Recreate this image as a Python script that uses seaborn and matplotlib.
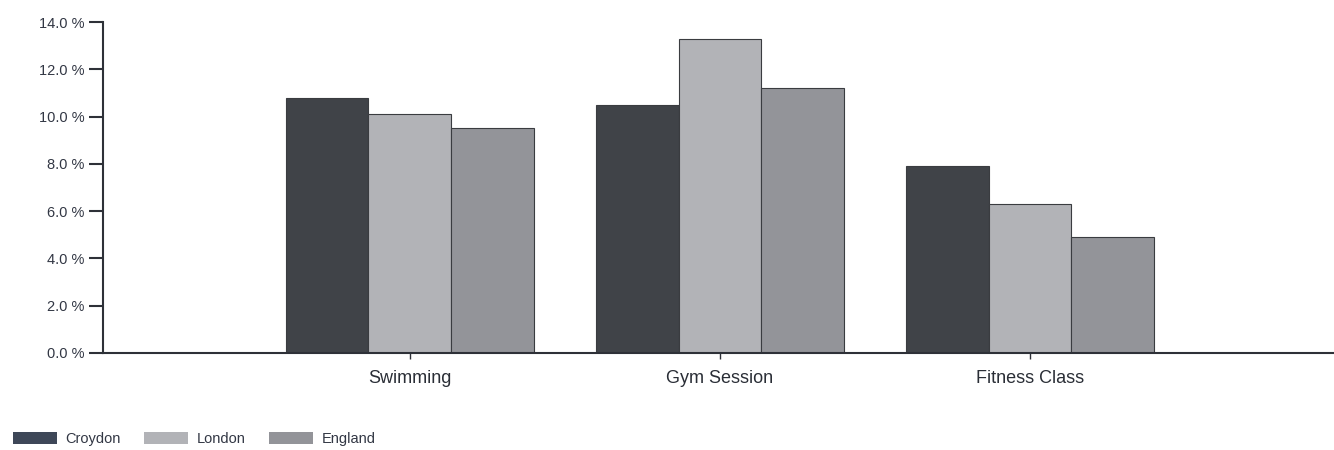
import pandas as pd
import matplotlib.pyplot as plt
import seaborn as sns
from matplotlib.ticker import FuncFormatter

# Datos
actividades = ['Swimming', 'Gym Session', 'Fitness Class']
croydon = [10.8, 10.5, 7.9]
london = [10.1, 13.3, 6.3]
england = [9.5, 11.2, 4.9]
zonas = ['Croydon', 'London', 'England']
colores = ['#404348', '#b2b3b7', '#939499']

datos = pd.DataFrame({
    'Actividad': actividades * 3,
    'Zona': ['Croydon'] * 3 + ['London'] * 3 + ['England'] * 3,
    'Valor': croydon + london + england,
})

sns.set_style('white')
plt.rcParams['font.family'] = ['Liberation Sans', 'DejaVu Sans']

fig = plt.figure(figsize=(13.34, 4.5), dpi=100)
ax = fig.add_axes([0.077, 0.2156, 0.923, 0.7354])

sns.barplot(data=datos, x='Actividad', y='Valor', hue='Zona', hue_order=zonas,
            palette=colores, width=0.8, edgecolor='#3a3c40', linewidth=0.8,
            saturation=1, ax=ax, legend=False)

ax.set_ylim(0, 14)
ax.set_xlim(-0.99, 2.98)
ax.set_yticks(range(0, 15, 2))
ax.yaxis.set_major_formatter(FuncFormatter(lambda v, p: f'{v:.1f} %'))
ax.set_xlabel('')
ax.set_ylabel('')

for lado in ['top', 'right']:
    ax.spines[lado].set_visible(False)
for lado in ['left', 'bottom']:
    ax.spines[lado].set_color('#2e3138')
    ax.spines[lado].set_linewidth(1.5)

ax.tick_params(axis='y', direction='out', length=10, width=1.5, color='#2e3138',
               labelsize=10.5, labelcolor='#323744', left=True, pad=3)
ax.tick_params(axis='x', direction='out', length=4, width=1, color='#2e3138',
               labelsize=13, labelcolor='#2a2e36', bottom=True, pad=8)

# Leyenda inferior
handles = [plt.Rectangle((0, 0), 1, 1, facecolor=c, edgecolor='none') for c in ['#3e4758', '#b2b3b7', '#939499']]
fig.legend(handles, zonas, loc='lower left', bbox_to_anchor=(0.0, -0.02), ncol=3,
           frameon=False, fontsize=10.5, handlelength=3.0, handleheight=0.9,
           handletextpad=0.6, columnspacing=1.6, labelcolor='#323744')

plt.savefig('out.png', dpi=100)
